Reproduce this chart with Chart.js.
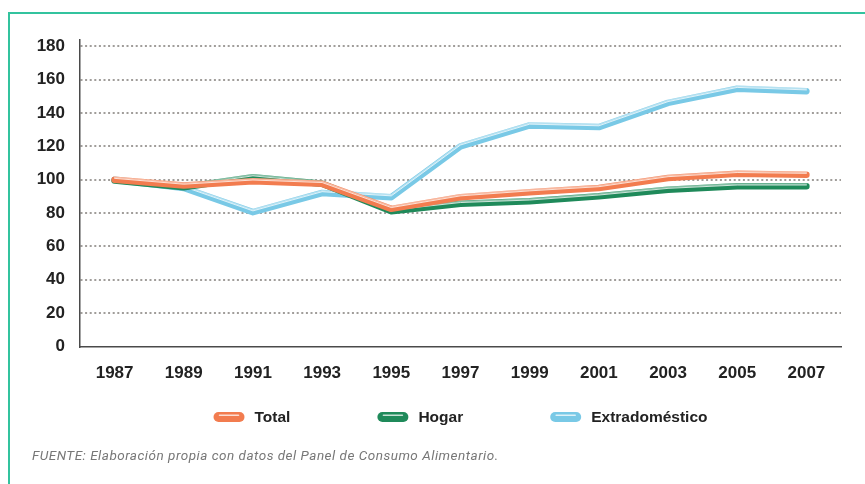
<!DOCTYPE html>
<html>
<head>
<meta charset="utf-8">
<script src="https://cdn.jsdelivr.net/npm/chart.js@4.4.1/dist/chart.umd.min.js"></script>
<style>
  html, body { margin: 0; padding: 0; background: #ffffff; }
  body { width: 865px; height: 484px; position: relative; overflow: hidden; }
  #frame { position: absolute; left: 8px; top: 12px; width: 900px; height: 500px;
           border-left: 2px solid #33c39e; border-top: 2px solid #33c39e; }
  #wrap { position: absolute; left: 0; top: 0; width: 865px; height: 484px; }
  #note { position: absolute; left: 32px; top: 447px; font-family: Roboto, "Liberation Sans", sans-serif;
          font-style: italic; font-size: 13.5px; letter-spacing: 0.5px; color: #777777; white-space: nowrap; }
</style>
</head>
<body>
<div id="frame"></div>
<div id="wrap"><canvas id="c" width="865" height="484"></canvas></div>
<div id="note">FUENTE: Elaboración propia con datos del Panel de Consumo Alimentario.</div>
<script>
const years = ["1987","1989","1991","1993","1995","1997","1999","2001","2003","2005","2007"];
const total = [100, 96.5, 99, 97.5, 82.5, 89.5, 92.5, 95, 101, 103.5, 103];
const hogar = [99.5, 95.5, 101.5, 97.5, 81, 85.5, 87, 90, 94, 96, 96];
const extradomestico = [100, 95, 80.5, 92, 89.5, 120, 132.5, 131.5, 146, 154.5, 153];
const seriesNames = ["Total", "Hogar", "Extradoméstico"];
const seriesColors = ["#f27c4f", "#1f8a5a", "#79c9e6"];

function mkDataset(label, data, color) {
  return {
    label: label, data: data, borderColor: color, backgroundColor: color,
    borderWidth: 6.5, pointRadius: 0, pointHoverRadius: 0, tension: 0,
    borderCapStyle: 'round', borderJoinStyle: 'round', fill: false
  };
}

const highlightPlugin = {
  id: 'highlight',
  afterDatasetDraw(chart, args) {
    const meta = args.meta;
    const pts = meta.data;
    const ctx = chart.ctx;
    ctx.save();
    ctx.lineCap = 'round'; ctx.lineJoin = 'round';
    const passes = [[-2.4, 1.4, 'rgba(255,255,255,0.45)'], [-1.3, 0.9, 'rgba(255,255,255,0.85)']];
    passes.forEach(([dy, w, col]) => {
      ctx.beginPath();
      pts.forEach((p, i) => { if (i === 0) ctx.moveTo(p.x, p.y + dy); else ctx.lineTo(p.x, p.y + dy); });
      ctx.strokeStyle = col; ctx.lineWidth = w; ctx.stroke();
    });
    ctx.restore();
  }
};

const legendPlugin = {
  id: 'pillLegend',
  afterDraw(chart) {
    const ctx = chart.ctx;
    const area = chart.chartArea;
    const font = 'bold 15.5px "Liberation Sans", Arial, sans-serif';
    ctx.save();
    ctx.font = font;
    const pillW = 31, pillH = 10, gapText = 10, gapItem = 87;
    const items = chart.data.datasets.map(ds => ({ text: ds.label, color: ds.borderColor, tw: ctx.measureText(ds.label).width }));
    let totalW = 0;
    items.forEach((it, i) => { totalW += pillW + gapText + it.tw + (i < items.length - 1 ? gapItem : 0); });
    let x = (area.left + area.right) / 2 - totalW / 2;
    const cy = area.bottom + 70.5;
    items.forEach(it => {
      const r = pillH / 2;
      ctx.beginPath();
      ctx.roundRect(x, cy - r, pillW, pillH, r);
      ctx.fillStyle = it.color; ctx.fill();
      ctx.beginPath();
      ctx.moveTo(x + 6, cy - 1.8); ctx.lineTo(x + pillW - 6, cy - 1.8);
      ctx.strokeStyle = 'rgba(255,255,255,0.75)'; ctx.lineWidth = 1.6; ctx.lineCap = 'round'; ctx.stroke();
      ctx.fillStyle = '#222222';
      ctx.textBaseline = 'middle'; ctx.textAlign = 'left';
      ctx.fillText(it.text, x + pillW + gapText, cy + 0.5);
      x += pillW + gapText + it.tw + gapItem;
    });
    ctx.restore();
  }
};

new Chart(document.getElementById('c'), {
  type: 'line',
  data: {
    labels: years,
    datasets: [
      mkDataset(seriesNames[0], total, seriesColors[0]),
      mkDataset(seriesNames[1], hogar, seriesColors[1]),
      mkDataset(seriesNames[2], extradomestico, seriesColors[2])
    ]
  },
  options: {
    responsive: false,
    animation: false,
    events: [],
    layout: { padding: { top: 39.5, right: 24, bottom: 0, left: 0 } },
    plugins: { legend: { display: false }, tooltip: { enabled: false }, title: { display: false } },
    scales: {
      x: {
        type: 'category',
        offset: true,
        grid: { display: false, drawTicks: false },
        border: { display: true, color: '#4a4a4a', width: 1.5 },
        ticks: { padding: 17, color: '#222222', maxRotation: 0, autoSkip: false,
                 font: { family: '"Liberation Sans", Arial, sans-serif', size: 17, weight: 'bold' } },
        afterFit(scale) { scale.height = 137.5; }
      },
      y: {
        min: 0, max: 184,
        grid: {
          drawTicks: false, lineWidth: 2,
          color: ctx => (ctx.tick && ctx.tick.value === 0) ? 'rgba(0,0,0,0)' : '#a09d9a'
        },
        border: { display: true, color: '#4a4a4a', width: 1.5, dash: [2, 2.6] },
        ticks: { stepSize: 20, includeBounds: false, padding: 15, color: '#222222',
                 font: { family: '"Liberation Sans", Arial, sans-serif', size: 17, weight: 'bold' } },
        afterFit(scale) { scale.width = 80; }
      }
    }
  },
  plugins: [highlightPlugin, legendPlugin]
});
</script>
</body>
</html>
